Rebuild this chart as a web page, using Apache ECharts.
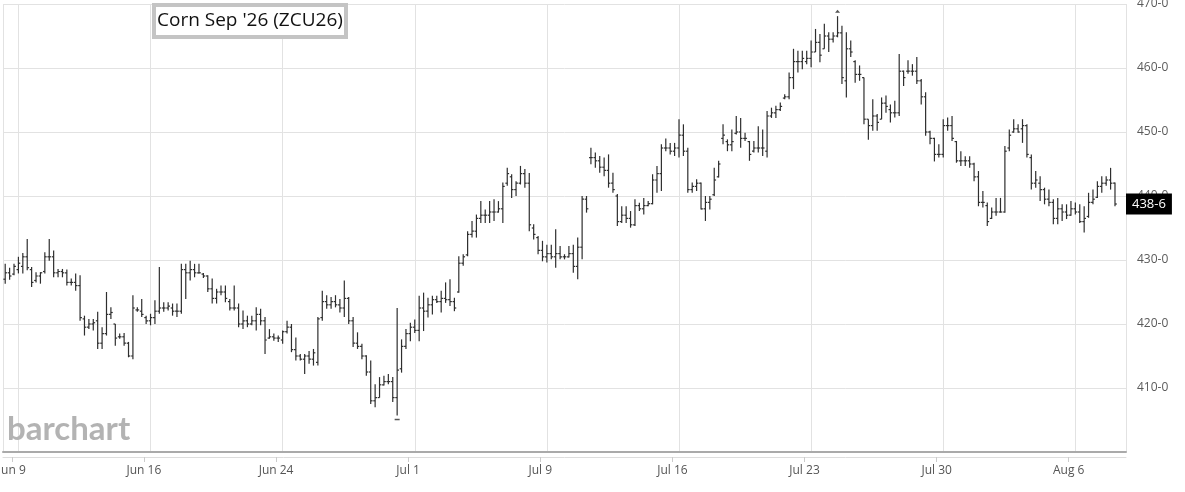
<!DOCTYPE html>
<html>
<head>
<meta charset="utf-8">
<script src="https://cdn.jsdelivr.net/npm/echarts@6/dist/echarts.min.js"></script>
<style>
html,body{margin:0;padding:0;background:#fff;}
#chart{width:1185px;height:492px;}
</style>
</head>
<body>
<div id="chart"></div>
<script>
// ---- data ----
const tradingDays = ['Jun 8','Jun 9','Jun 10','Jun 11','Jun 12','Jun 15','Jun 16','Jun 17','Jun 18','Jun 22','Jun 23','Jun 24','Jun 25','Jun 26','Jun 29','Jun 30',
  'Jul 1','Jul 2','Jul 6','Jul 7','Jul 8','Jul 9','Jul 10','Jul 13','Jul 14','Jul 15','Jul 16','Jul 17','Jul 20','Jul 21','Jul 22','Jul 23','Jul 24','Jul 27','Jul 28','Jul 29','Jul 30','Jul 31',
  'Aug 3','Aug 4','Aug 5','Aug 6','Aug 7','Aug 10'];
const barsPerDay = 6;
const firstSession = 5;      // first visible bar is session 5 of Jun 8
const slotCount = 255;       // visible slots incl. two empty future slots
const xTickLabels = ['Jun 9','Jun 16','Jun 24','Jul 1','Jul 9','Jul 16','Jul 23','Jul 30','Aug 6'];
const yTickValues = [410,420,430,440,450,460,470];

const opens = [
427.0,428.0,427.8,428.5,429.0,430.5,428.5,426.8,427.5,428.2,
430.5,430.5,428.0,428.2,428.0,426.5,426.5,426.0,420.8,419.5,
420.0,420.5,417.0,418.5,421.5,420.0,418.0,418.0,417.0,415.0,
422.2,422.0,421.0,420.5,421.0,422.0,422.5,422.5,422.5,422.0,
422.0,428.5,428.0,428.5,428.0,427.8,427.5,425.5,424.0,425.0,
425.0,423.5,422.5,422.5,420.0,420.5,420.0,420.5,421.5,420.5,
417.8,418.0,417.8,417.5,418.8,419.5,416.0,415.0,414.5,415.0,
414.5,414.0,421.0,423.5,423.0,423.5,423.0,422.5,424.0,420.5,
417.0,416.5,415.0,412.5,408.0,408.5,410.5,411.0,411.0,408.5,
413.0,416.5,418.5,419.5,419.0,422.5,422.0,423.0,423.8,423.5,
424.0,423.8,423.5,425.0,429.5,430.8,434.0,434.5,436.5,437.0,
437.0,437.5,437.5,438.0,442.0,443.0,441.0,442.0,443.5,442.0,
435.0,433.5,431.5,430.5,431.0,430.5,431.0,430.5,430.5,431.0,
429.0,432.0,439.5,446.0,446.0,445.5,444.5,444.0,442.0,440.0,
436.0,437.0,436.5,435.5,438.5,438.0,438.5,438.8,442.5,443.5,
447.5,447.5,447.0,447.5,449.5,447.0,441.0,441.5,442.0,438.0,
439.0,440.2,443.0,449.0,448.5,448.0,449.8,450.0,449.0,448.5,
447.0,447.5,447.5,447.0,452.5,453.0,453.5,455.3,455.5,458.5,
461.0,461.0,461.0,461.5,462.5,464.0,463.0,465.0,464.5,465.0,
465.5,458.0,463.0,461.0,459.0,458.5,452.0,451.0,452.5,452.0,
454.5,453.5,453.0,453.0,459.5,459.5,459.5,459.5,458.0,455.5,
450.0,449.0,446.5,446.5,451.0,451.0,448.5,445.5,445.5,445.5,
445.0,443.0,439.0,438.5,436.5,437.5,437.5,437.5,447.5,450.0,
450.5,450.5,451.0,446.0,442.0,442.0,441.0,439.5,439.0,436.5,
438.0,437.5,437.0,438.0,437.5,436.0,436.8,439.0,439.8,441.5,
442.0,442.5,442.0];

const highs = [
429.4,428.8,429.4,430.5,431.1,433.3,428.9,428.1,428.1,431.2,
433.3,431.5,428.6,428.6,428.5,427.1,427.9,427.6,421.3,420.8,
420.8,421.9,419.5,425.0,422.6,420.0,418.5,418.6,417.2,424.5,
422.6,423.9,421.3,421.6,423.7,428.9,423.4,423.4,423.2,423.2,
429.4,429.4,429.9,429.4,429.4,427.95,427.6,427.1,425.5,426.0,
426.0,423.9,426.0,423.2,422.1,421.3,421.3,422.6,422.4,421.1,
419.2,418.5,418.2,419.0,420.5,420.0,417.9,415.3,415.3,415.8,
416.1,421.1,425.2,424.5,424.2,424.5,423.9,426.8,424.2,421.1,
418.7,416.9,415.1,414.3,410.6,411.7,411.9,412.2,411.7,422.5,
417.6,419.2,420.2,420.7,424.4,424.9,424.1,424.4,424.4,425.2,
426.5,427.0,424.1,430.6,430.9,434.5,436.1,437.1,439.2,437.9,
439.2,439.5,439.2,442.1,444.4,443.4,442.3,444.7,444.2,443.6,
435.6,433.75,433.0,432.4,432.4,434.8,432.2,430.9,432.2,432.4,
433.5,440.0,440.0,447.55,446.8,446.25,446.0,446.5,443.65,440.3,
438.4,438.4,437.65,439.5,438.95,439.7,439.2,443.4,444.7,448.1,
449.0,448.3,448.3,452.0,451.2,447.55,442.1,442.6,442.1,440.0,
440.0,444.4,445.5,451.2,448.85,450.4,452.5,452.2,449.9,448.6,
448.6,450.9,450.4,453.3,453.8,454.1,454.6,455.9,459.3,463.0,
462.7,462.7,462.7,464.3,466.1,465.3,466.9,465.6,465.6,468.1,
466.6,465.6,464.3,461.2,460.4,458.5,452.0,455.1,452.8,455.4,
455.7,454.3,454.9,462.2,459.6,461.2,460.6,461.7,458.3,456.2,
450.2,449.1,448.1,452.0,452.25,452.5,448.6,447.0,446.2,446.2,
445.2,443.9,440.8,439.0,438.2,439.7,439.7,447.8,450.4,452.0,
451.2,452.0,451.2,446.5,443.9,443.1,441.3,441.0,439.5,439.7,
438.7,438.7,439.2,439.0,438.7,438.4,440.5,441.0,442.3,443.1,
443.1,444.4,442.1];

const lows = [
426.3,426.9,427.6,427.9,427.9,428.4,425.8,426.5,426.3,427.9,
429.9,427.3,427.3,427.3,426.0,426.0,425.2,420.5,418.2,419.2,
419.0,416.1,416.1,418.2,420.8,416.6,417.7,416.6,414.8,414.5,
421.9,421.1,420.0,419.8,420.0,421.6,421.9,422.1,421.3,421.1,
421.6,423.9,426.8,427.3,427.9,427.2,425.0,423.2,423.2,424.5,
423.4,422.1,422.1,419.5,419.2,419.5,419.8,419.0,419.8,415.3,
417.7,417.4,417.2,416.9,418.5,415.6,414.3,414.3,412.2,413.8,
413.5,413.5,420.5,422.4,422.4,422.6,421.8,421.1,420.0,416.4,
416.1,414.5,411.9,407.5,407.0,408.5,410.4,410.6,407.8,405.7,
412.4,416.1,417.3,418.6,417.3,418.9,421.0,421.5,423.3,421.8,
423.3,422.8,422.0,424.9,429.1,430.6,433.5,433.5,435.8,435.8,
435.8,436.1,437.4,435.8,441.6,439.7,440.0,441.8,441.3,434.5,
433.2,430.9,429.8,429.6,430.1,428.8,430.1,430.1,430.4,428.0,
427.0,430.1,437.4,444.95,444.4,443.65,443.1,441.3,440.5,435.3,
435.8,435.8,435.05,435.3,437.65,437.1,438.4,438.7,440.5,440.8,
447.0,446.5,446.25,446.0,446.25,440.5,440.5,440.8,437.9,436.1,
437.9,440.0,442.9,448.1,447.0,447.0,449.6,447.55,448.6,445.5,
446.8,446.8,446.25,446.0,452.2,452.2,453.3,455.1,455.1,456.7,
459.3,459.8,460.6,460.1,462.5,460.9,463.0,462.5,464.0,464.8,
457.5,455.4,461.7,457.7,458.0,451.2,448.8,450.2,450.2,452.0,
453.0,451.5,452.25,452.5,457.2,459.1,458.8,457.5,454.3,449.4,
448.1,445.4,446.0,446.0,450.2,448.6,445.2,444.7,444.7,444.4,
442.3,438.4,438.2,435.3,436.4,436.9,437.4,437.4,447.0,449.9,
449.9,448.3,446.0,441.0,441.3,439.2,438.7,438.4,435.6,435.6,
436.1,436.4,436.9,437.1,435.8,434.3,436.6,438.7,439.7,440.5,
441.6,441.0,438.4];

const closes = [
428.0,427.5,429.0,429.5,430.5,428.8,426.5,427.5,428.0,430.5,
430.5,428.0,428.2,428.0,426.5,426.5,426.0,421.0,419.5,420.0,
420.2,417.0,418.5,421.5,421.8,417.8,418.0,417.0,415.0,422.5,
422.2,421.5,420.5,421.0,422.0,422.5,422.5,422.8,422.0,422.0,
428.5,428.0,428.5,428.0,428.0,427.5,425.5,424.0,425.0,425.0,
424.0,422.5,422.5,420.0,420.5,420.0,420.5,421.5,420.5,417.5,
418.0,417.8,417.8,418.8,419.5,416.0,415.0,414.5,415.0,414.5,
415.5,420.8,423.5,423.0,423.5,423.0,422.5,424.0,420.5,417.0,
416.5,415.0,412.5,408.0,408.5,410.5,411.0,411.0,408.5,412.8,
416.5,418.5,419.5,419.0,422.5,422.0,423.0,423.8,423.5,424.0,
423.8,423.5,422.5,429.5,430.5,434.0,434.5,436.5,437.0,437.0,
437.5,437.5,438.0,441.5,443.5,441.0,442.0,443.5,442.0,435.5,
434.0,431.5,430.5,431.0,430.5,431.0,430.5,430.5,431.0,429.0,
432.0,439.5,438.0,446.0,445.5,444.5,444.0,442.0,441.0,436.0,
437.0,436.5,435.5,438.5,438.0,438.5,438.8,442.5,443.5,447.5,
447.5,447.0,447.5,449.5,447.0,441.0,441.5,442.0,438.0,439.0,
439.5,442.5,445.0,449.5,448.0,448.5,450.0,449.0,449.0,446.5,
447.5,447.5,447.5,452.5,453.0,453.5,454.0,455.5,458.5,461.0,
461.0,461.5,461.5,462.5,464.0,462.0,465.0,464.5,465.0,465.5,
458.5,463.0,462.5,459.0,459.0,452.0,451.0,452.5,451.5,454.5,
454.0,453.0,453.0,459.5,458.5,459.5,459.5,458.0,455.5,450.0,
449.0,446.5,446.5,451.0,451.0,449.0,445.5,445.5,445.5,445.0,
443.0,439.0,439.0,436.0,437.5,437.5,437.5,447.0,449.5,450.5,
450.0,451.0,446.5,442.0,442.5,441.0,439.5,439.0,436.5,438.0,
437.5,437.0,438.0,437.5,436.0,436.5,439.0,439.5,441.5,442.0,
442.5,442.0,438.75];

// ---- categories: "<day> #<session>" ----
const categories = [];
{
  let d = 0, s = firstSession;
  while (categories.length < slotCount) {
    categories.push(tradingDays[d] + ' #' + s);
    s++; if (s > barsPerDay) { s = 1; d++; }
  }
}
const isLabelSlot = (i) => {
  const c = categories[i];
  if (!c) return false;
  const parts = c.split(' #');
  return parts[1] === '1' && xTickLabels.indexOf(parts[0]) >= 0;
};

// helper axis at half-bar resolution: even j = left edge of bar j/2, odd j = centre of bar (j-1)/2
const halfSlots = [];
for (let j = 0; j <= slotCount * 2; j++) {
  halfSlots.push(j % 2 === 0 ? 'edge ' + (categories[j / 2] || 'end') : 'mid ' + categories[(j - 1) / 2]);
}
const isTickHalf = (j) => j % 2 === 0 && isLabelSlot(j / 2);
const isGridHalf = (j) => {
  if (j === 0 || j === slotCount * 2) return true;
  if (j % 2 === 0) return false;
  return isLabelSlot((j - 1) / 2 - 1);
};

const ohlc = highs.map((h, i) => [i, opens[i], closes[i], lows[i], h]);
const fmtPrice = (p) => {
  const w = Math.floor(p + 1e-9);
  return w + '-' + Math.round((p - w) * 8);
};
const lastPrice = closes[closes.length - 1];
const hiIdx = highs.indexOf(Math.max(...highs));
const loIdx = lows.indexOf(Math.min(...lows));

const FONT = 'Open Sans, Noto Sans, sans-serif';

const chart = echarts.init(document.getElementById('chart'), null, {renderer: 'canvas'});
chart.setOption({
  animation: false,
  backgroundColor: '#ffffff',
  title: [
    {
      text: "Corn Sep '26 (ZCU26)",
      left: 154, top: 5,
      backgroundColor: '#ffffff',
      borderColor: '#c4c4c4', borderWidth: 4,
      padding: [2, 3, 2, 3],
      textStyle: {fontFamily: FONT, fontSize: 19, fontWeight: 'normal', color: '#111', lineHeight: 28}
    },
    {
      text: 'barchart',
      left: 7, top: 413,
      padding: 0,
      textStyle: {fontFamily: 'Lato, Open Sans, sans-serif', fontSize: 33, fontWeight: 'bold', color: '#b3b3b3'}
    }
  ],
  grid: {left: 3, right: 59, top: 4, bottom: 40, containLabel: false, outerBoundsMode: 'none'},
  xAxis: [
    {
      type: 'category', data: categories, boundaryGap: true,
      axisLine: {show: true, lineStyle: {color: '#aaaaaa', width: 2}},
      axisTick: {show: false}, axisLabel: {show: false}, splitLine: {show: false}
    },
    {
      type: 'category', data: halfSlots, boundaryGap: false, position: 'bottom', offset: 5,
      axisLine: {show: true, lineStyle: {color: '#dddddd', width: 1}},
      axisTick: {show: true, length: 5, interval: (j) => isTickHalf(j), lineStyle: {color: '#cccccc'}},
      axisLabel: {
        show: true, interval: (j) => isTickHalf(j),
        formatter: (v) => v.replace('edge ', '').split(' #')[0],
        color: '#555555', fontFamily: FONT, fontSize: 12, margin: 8
      },
      splitLine: {show: true, interval: (j) => isGridHalf(j), lineStyle: {color: '#e2e2e2', width: 1}}
    }
  ],
  yAxis: {
    type: 'value', position: 'right', min: 400, max: 470, interval: 10,
    axisLine: {show: false}, axisTick: {show: false},
    axisLabel: {
      color: '#5a5a5a', fontFamily: FONT, fontSize: 12, margin: 11,
      formatter: (v) => (yTickValues.indexOf(v) >= 0 ? fmtPrice(v) : '')
    },
    splitLine: {show: true, lineStyle: {color: '#e2e2e2', width: 1}}
  },
  series: [
    {
      type: 'custom',
      xAxisIndex: 0, yAxisIndex: 0,
      data: ohlc,
      encode: {x: 0, y: [1, 2, 3, 4]},
      renderItem: function (params, api) {
        const x = api.value(0);
        const pO = api.coord([x, api.value(1)]);
        const pC = api.coord([x, api.value(2)]);
        const pL = api.coord([x, api.value(3)]);
        const pH = api.coord([x, api.value(4)]);
        const bw = api.size([1, 0])[0];
        const t = Math.max(1.6, bw * 0.42);
        const st = {stroke: '#2e2e2e', lineWidth: 1.2};
        return {
          type: 'group',
          children: [
            {type: 'line', shape: {x1: pH[0], y1: pH[1], x2: pL[0], y2: pL[1]}, style: st},
            {type: 'line', shape: {x1: pO[0] - t, y1: pO[1], x2: pO[0], y2: pO[1]}, style: st},
            {type: 'line', shape: {x1: pC[0], y1: pC[1], x2: pC[0] + t, y2: pC[1]}, style: st}
          ]
        };
      }
    },
    {
      type: 'line', xAxisIndex: 0, yAxisIndex: 0,
      data: [[closes.length - 1, lastPrice]],
      showSymbol: false, symbol: 'none', silent: true,
      lineStyle: {color: 'rgba(0,0,0,0)'},
      markPoint: {
        silent: true,
        label: {show: false},
        data: [
          {coord: [hiIdx, highs[hiIdx]], symbol: 'triangle', symbolSize: [5, 3], symbolOffset: [0, -5], itemStyle: {color: '#555'}},
          {coord: [loIdx, lows[loIdx]], symbol: 'rect', symbolSize: [5, 1.5], symbolOffset: [0, 4], itemStyle: {color: '#555'}}
        ]
      },
      markLine: {
        silent: true, symbol: ['none', 'none'],
        lineStyle: {color: 'rgba(0,0,0,0)', width: 1, type: 'solid'},
        emphasis: {disabled: true},
        label: {
          show: true, position: 'end', distance: 0,
          formatter: () => fmtPrice(lastPrice),
          backgroundColor: '#000000', color: '#ffffff', opacity: 1,
          fontFamily: FONT, fontSize: 13, lineHeight: 13,
          padding: [4, 6, 4, 6]
        },
        data: [{yAxis: lastPrice}]
      }
    }
  ]
});
</script>
</body>
</html>
